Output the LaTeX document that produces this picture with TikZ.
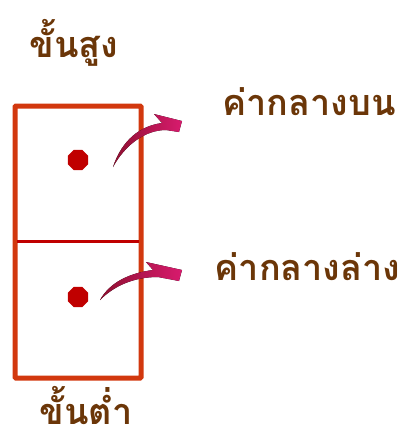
\documentclass[tikz,border=0pt]{standalone}
\usepackage{fontspec}
\newfontfamily\thai[Script=Thai]{Loma}
\usetikzlibrary{shapes.geometric}
\definecolor{boxc}{HTML}{D2380E}
\definecolor{midc}{HTML}{C00000}
\definecolor{txtc}{HTML}{6B3608}
\definecolor{arra}{HTML}{8E1030}
\definecolor{arrb}{HTML}{D81B6E}
\tikzset{
  lbl/.style={text=txtc,font=\thai\bfseries\fontsize{36}{40}\selectfont,inner sep=0pt,anchor=base},
  dot/.style={regular polygon,regular polygon sides=8,fill=midc,minimum size=22pt,inner sep=0pt},
  arrshape/.style={left color=arra,right color=arrb,draw=none}
}
\begin{document}
\begin{tikzpicture}[x=1pt,y=-1pt]
\useasboundingbox (0,0) rectangle (403,432);
\draw[boxc,line width=5pt,rounded corners=1pt] (15,106) rectangle (141,378);
\coordinate (ml) at (17,241);
\coordinate (mr) at (139,241);
\draw[midc,line width=3pt] (ml) -- (mr);
\node[dot] (d1) at (78,160) {};
\node[dot] (d2) at (78,297) {};
\node[lbl] (t1) at (74,57) {ขั้นสูง};
\node[lbl] (t2) at (309,115) {ค่ากลางบน};
\node[lbl] (t3) at (307.5,280) {ค่ากลางล่าง};
\node[lbl] (t4) at (86,424) {ขั้นต่ำ};
% upper curved arrow
\fill[arrshape] (113,167) .. controls (122,140) and (140,126) .. (162,123)
  -- (154,114) -- (182,121) -- (179,132) -- (166,130)
  .. controls (145,130) and (125,145) .. (113,167) -- cycle;
% lower curved arrow
\fill[arrshape] (100,300) .. controls (110,282) and (130,273) .. (153,270)
  -- (146,262) -- (182,270) -- (179,281) -- (158,277)
  .. controls (135,277) and (115,285) .. (100,300) -- cycle;
\end{tikzpicture}
\end{document}
